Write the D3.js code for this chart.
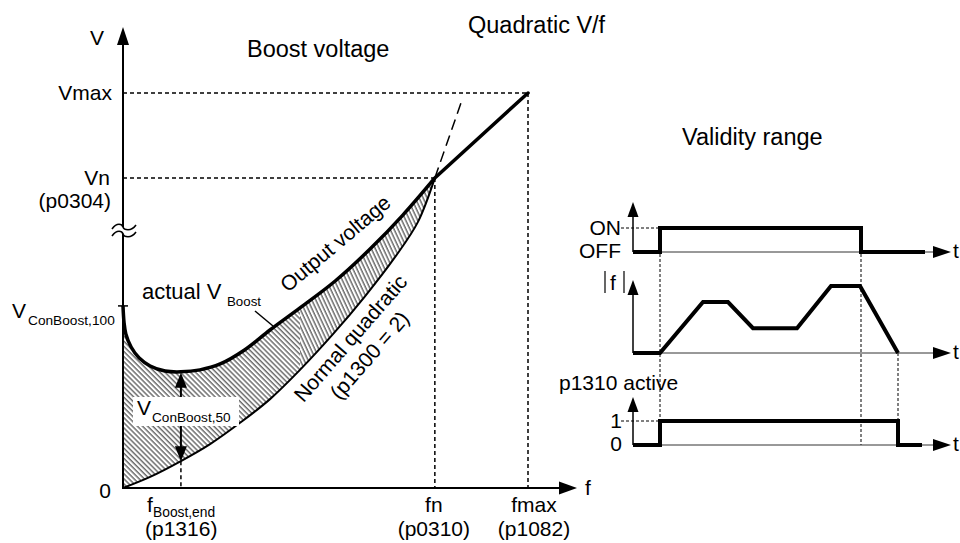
<!DOCTYPE html>
<html><head><meta charset="utf-8">
<script src="https://cdn.jsdelivr.net/npm/d3@7"></script>
<style>
html,body{margin:0;padding:0;background:#fff;}
text{font-family:"Liberation Sans",Arial,Helvetica,sans-serif;fill:#000;}
</style></head>
<body><svg id="c" width="960" height="543"></svg>
<script>
// ---------- DATA (f in % of fmax, V in % of Vmax) ----------
const keyF = [14.3, 77.0, 100];            // fBoost,end, fn, fmax
const keyFLabels = [["f","Boost,end","(p1316)"],["fn","","(p0310)"],["fmax","","(p1082)"]];
const keyV = [46.1, 78.5, 100];            // VConBoost,100, Vn, Vmax
const breakV = 65.3;                        // axis break position
const outputF = [0, 0.25, 0.7, 2.0, 4.0, 6.7, 10.4, 14.3, 19.0, 24.0, 30.1, 36.3, 43.7, 52.4, 61.0, 69.1, 77.0, 100];
const outputV = [46.1, 42.0, 39.0, 35.7, 32.9, 30.9, 29.6, 29.4, 29.9, 31.4, 35.0, 40.0, 45.6, 52.4, 60.5, 69.1, 78.5, 100];
const normalF = [0, 6.7, 14.3, 21.5, 28.9, 36.3, 43.7, 51.9, 59.8, 67.2, 72.8, 77.0];
const normalV = [0, 2.8, 6.8, 11.1, 16.5, 22.5, 29.9, 39.0, 48.6, 58.5, 67.3, 78.5];
const extF = [77.0, 83.7];
const extV = [78.5, 98.2];
// timing diagram (t in arbitrary time units)
const onT = [0, 2.7, 2.7, 22.8, 22.8, 29.2];
const onV = [0, 0, 1, 1, 0, 0];
const fabsT = [0, 2.7, 7.0, 9.5, 12.0, 16.4, 19.8, 22.7, 26.5];
const fabsV = [0, 0, 0.76, 0.76, 0.37, 0.37, 1, 1, 0];
const actT = [0, 2.7, 2.7, 26.5, 26.5, 28.9];
const actV = [0, 0, 1, 1, 0, 0];
const markT = [2.7, 22.8, 26.5];

// ---------- SCALES ----------
const svg = d3.select("#c");
const x = d3.scaleLinear().domain([0,100]).range([123,528]);
const y = d3.scaleLinear().domain([0,100]).range([488,93]);
const t = d3.scaleLinear().domain([0,32]).range([633,953]);
const r1 = d3.scaleLinear().domain([0,1]).range([252,228]);
const r2 = d3.scaleLinear().domain([0,1]).range([353,286]);
const r3 = d3.scaleLinear().domain([0,1]).range([445,421]);

const zip = (a,b)=>a.map((v,i)=>[v,b[i]]);
const curveLine = d3.line().x(d=>x(d[0])).y(d=>y(d[1])).curve(d3.curveCatmullRom.alpha(0.5));
const straight = d3.line().x(d=>x(d[0])).y(d=>y(d[1]));

// ---------- HATCH ----------
const defs = svg.append("defs");
function pat(id, ang){
  const p = defs.append("pattern").attr("id",id).attr("patternUnits","userSpaceOnUse")
    .attr("width",3.6).attr("height",10).attr("patternTransform",`rotate(${ang})`);
  p.append("line").attr("x1",1).attr("x2",1).attr("y1",-1).attr("y2",11).attr("stroke","#000").attr("stroke-width",0.9);
}
pat("h1",-45); pat("h2",-25);
defs.append("clipPath").attr("id","cL").append("rect").attr("x",0).attr("y",0).attr("width",x(43.7)).attr("height",543);
defs.append("clipPath").attr("id","cR").append("rect").attr("x",x(43.7)).attr("y",0).attr("width",600).attr("height",543);

const outCurve = zip(outputF.slice(0,17), outputV.slice(0,17));
const normCurve = zip(normalF, normalV);
// region between the curves
const upperPath = curveLine(outCurve);
const lowerPath = curveLine(normCurve.slice().reverse());
const areaD = upperPath + "L" + lowerPath.slice(1) + "Z";
svg.append("path").attr("d",areaD).attr("fill","url(#h1)").attr("clip-path","url(#cL)");
svg.append("path").attr("d",areaD).attr("fill","url(#h2)").attr("clip-path","url(#cR)");

// ---------- DASHED GUIDES ----------
const dash = {"stroke":"#000","stroke-width":1.5,"stroke-dasharray":"4,3","fill":"none"};
function seg(x1,y1,x2,y2,st){const l=svg.append("line").attr("x1",x1).attr("y1",y1).attr("x2",x2).attr("y2",y2);for(const k in st)l.attr(k,st[k]);return l;}
seg(x(0),y(keyV[2]),x(keyF[2]),y(keyV[2]),dash);
seg(x(keyF[2]),y(keyV[2]),x(keyF[2]),y(0),dash);
seg(x(0),y(keyV[1]),x(keyF[1]),y(keyV[1]),dash);
seg(x(keyF[1]),y(keyV[1]),x(keyF[1]),y(0),dash);
seg(x(keyF[0]),y(normalV[2]),x(keyF[0]),y(0),dash);
svg.append("path").attr("d",straight(zip(extF,extV))).attr("stroke","#000").attr("stroke-width",1.5).attr("stroke-dasharray","11,6").attr("fill","none");

// ---------- CURVES ----------
svg.append("path").attr("d",curveLine(normCurve)).attr("stroke","#000").attr("stroke-width",2).attr("fill","none");
svg.append("path").attr("d",curveLine(outCurve)).attr("stroke","#000").attr("stroke-width",3.5).attr("fill","none");
svg.append("path").attr("d",straight(zip(outputF.slice(16),outputV.slice(16)))).attr("stroke","#000").attr("stroke-width",3.5).attr("fill","none").attr("stroke-linecap","round");

// ---------- AXES ----------
const ax = {"stroke":"#000","stroke-width":2};
seg(x(0),y(0),x(0),40,ax);
seg(x(0)-1,y(0),565,y(0),ax);
svg.append("path").attr("d",`M${x(0)},27L${x(0)-6},45L${x(0)+6},45Z`).attr("fill","#000");
svg.append("path").attr("d",`M577,${y(0)}L559,${y(0)-6.5}L559,${y(0)+6.5}Z`).attr("fill","#000");
// tick at VConBoost,100
seg(x(0)-5,y(keyV[0]),x(0)+5,y(keyV[0]),{"stroke":"#000","stroke-width":1.5});
// axis break
const by = y(breakV);
const wav = (yy)=>`M${x(0)-11},${yy+2} C${x(0)-6},${yy-5} ${x(0)-1},${yy-3} ${x(0)},${yy} S${x(0)+8},${yy+5} ${x(0)+13},${yy-2}`;
svg.append("path").attr("d",wav(by-3)+`L${x(0)+13},${by+4}`+ `C${x(0)+8},${by+9} ${x(0)+1},${by+5} ${x(0)},${by+3} S${x(0)-6},${by-2} ${x(0)-11},${by+5}Z`).attr("fill","#fff");
svg.append("path").attr("d",wav(by-3)).attr("stroke","#000").attr("stroke-width",1.6).attr("fill","none");
svg.append("path").attr("d",wav(by+4)).attr("stroke","#000").attr("stroke-width",1.6).attr("fill","none");

// ---------- V_ConBoost,50 double arrow ----------
const fb = x(keyF[0]);
const yTop = y(outputV[7]), yBot = y(normalV[2]);
seg(fb,yTop+12,fb,yBot-12,{"stroke":"#000","stroke-width":2});
svg.append("path").attr("d",`M${fb},${yTop+1}L${fb-6},${yTop+16}L${fb+6},${yTop+16}Z`).attr("fill","#000");
svg.append("path").attr("d",`M${fb},${yBot}L${fb-6},${yBot-15}L${fb+6},${yBot-15}Z`).attr("fill","#000");
svg.append("rect").attr("x",133).attr("y",397).attr("width",106).attr("height",29).attr("fill","#fff");
svg.append("text").attr("x",137).attr("y",415).attr("font-size",21).text("V");
svg.append("text").attr("x",152).attr("y",422).attr("font-size",13.6).text("ConBoost,50");

// ---------- TEXT (main) ----------
function txt(s,xx,yy,size,anchor){return svg.append("text").attr("x",xx).attr("y",yy).attr("font-size",size).attr("text-anchor",anchor||"start").text(s);}
txt("Quadratic V/f",468,33,23.5);
txt("Boost voltage",247,57,23.5);
txt("Validity range",682,145,23.5);
txt("V",104,45,21,"end");
txt("Vmax",112,y(keyV[2])+7,21,"end");
txt("Vn",110,y(keyV[1])+7,21,"end");
txt("(p0304)",111,208,21,"end");
txt("V",12,318,21);
txt("ConBoost,100",28,325,13.7);
txt("actual V",142,299,22);
txt("Boost",227,306,13.3);
seg(255,311,273,326,{"stroke":"#000","stroke-width":1.5});
txt("0",111,498,21,"end");
txt("f",585,495,21);
// f labels
txt("f",147,512,21);
txt("Boost,end",153,517,13.8);
txt("(p1316)",145,536,21);
[1,2].forEach(i=>{
  txt(keyFLabels[i][0],x(keyF[i])+ (i===1?-1:6),512,21,"middle");
  txt(keyFLabels[i][2],x(keyF[i])+ (i===1?-1:6),536,21,"middle");
});
svg.append("text").attr("font-size",21).attr("text-anchor","middle")
  .attr("transform","translate(340,249) rotate(-40)").text("Output voltage");
svg.append("text").attr("font-size",21).attr("text-anchor","middle")
  .attr("transform","translate(356,343) rotate(-49)").text("Normal quadratic");
svg.append("text").attr("font-size",21).attr("text-anchor","middle")
  .attr("transform","translate(375,360) rotate(-49)").text("(p1300 = 2)");

// ---------- TIMING DIAGRAM ----------
const thin = {"stroke":"#333","stroke-width":1};
const thick = {"stroke":"#000","stroke-width":4,"fill":"none","stroke-linejoin":"miter"};
function row(ry, tipY, tt, vv, tickVal){
  seg(t(0),ry(0),t(0),tipY+12,{"stroke":"#000","stroke-width":1.5});
  svg.append("path").attr("d",`M${t(0)},${tipY}L${t(0)-5.5},${tipY+15}L${t(0)+5.5},${tipY+15}Z`).attr("fill","#000");
  seg(t(0),ry(0),t(30),ry(0),thin);
  svg.append("path").attr("d",`M${t(31.8)},${ry(0)}L${t(30)},${ry(0)-6}L${t(30)},${ry(0)+6}Z`).attr("fill","#000");
  if(tickVal!==undefined) seg(t(0)-12,ry(tickVal),t(2.7),ry(tickVal),{"stroke":"#000","stroke-width":1,"stroke-dasharray":"3,2"});
  const p = svg.append("path").attr("d",d3.line().x(d=>t(d[0])).y(d=>ry(d[1]))(zip(tt,vv)));
  for(const k in thick)p.attr(k,thick[k]);
  txt("t",953,ry(0)+6,21);
}
const dm = {"stroke":"#000","stroke-width":1,"stroke-dasharray":"3,2"};
seg(t(markT[0]),r1(0)+2,t(markT[0]),r3(1),dm);
seg(t(markT[1]),r1(0)+2,t(markT[1]),r3(0),dm);
seg(t(markT[2]),r2(0),t(markT[2]),r3(1),dm);
row(r1,202,onT,onV,1);
row(r2,280,fabsT,fabsV);
row(r3,397,actT,actV,1);
txt("ON",621,235,21,"end");
txt("OFF",621,258,21,"end");
txt("f",610,290,21);
seg(605,271,605,293,{"stroke":"#000","stroke-width":1.2});
seg(624,271,624,293,{"stroke":"#000","stroke-width":1.2});
txt("p1310 active",559,390,21);
txt("1",622,428,21,"end");
txt("0",622,451,21,"end");
</script></body></html>
